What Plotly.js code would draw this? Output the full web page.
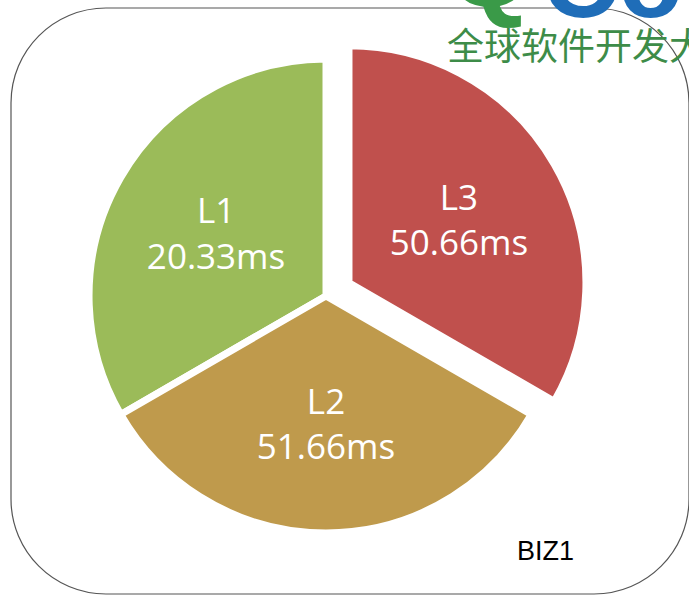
<!DOCTYPE html>
<html>
<head>
<meta charset="utf-8">
<script src="https://cdn.plot.ly/plotly-3.0.1.min.js"></script>
<style>html,body{margin:0;padding:0;background:#fff;}#chart{width:689px;height:595px;}</style>
</head>
<body>
<div id="chart"></div>
<script>
// Data
var categories = ['L1', 'L2', 'L3'];
var latencyMs = ['20.33', '51.66', '50.66'];
var sliceShares = [1, 1, 1];          // slices are drawn equal in the reference
var slicePull = [0, 0, 0.112];
var sliceColors = ['#9BBB59', '#BF9A4C', '#C0504D'];
var cornerLabel = 'BIZ1';
var watermark = '全球软件开发大会';

var W = 689, H = 595;
function px(x) { return x / W; }
function py(y) { return 1 - y / H; }

// rounded rectangle frame
function roundRect(x0, y0, x1, y1, r) {
  var k = 0.5523 * r;
  var p = [];
  p.push('M' + px(x0 + r) + ',' + py(y0));
  p.push('L' + px(x1 - r) + ',' + py(y0));
  p.push('C' + px(x1 - r + k) + ',' + py(y0) + ' ' + px(x1) + ',' + py(y0 + r - k) + ' ' + px(x1) + ',' + py(y0 + r));
  p.push('L' + px(x1) + ',' + py(y1 - r));
  p.push('C' + px(x1) + ',' + py(y1 - r + k) + ' ' + px(x1 - r + k) + ',' + py(y1) + ' ' + px(x1 - r) + ',' + py(y1));
  p.push('L' + px(x0 + r) + ',' + py(y1));
  p.push('C' + px(x0 + r - k) + ',' + py(y1) + ' ' + px(x0) + ',' + py(y1 - r + k) + ' ' + px(x0) + ',' + py(y1 - r));
  p.push('L' + px(x0) + ',' + py(y0 + r));
  p.push('C' + px(x0) + ',' + py(y0 + r - k) + ' ' + px(x0 + r - k) + ',' + py(y0) + ' ' + px(x0 + r) + ',' + py(y0));
  p.push('Z');
  return p.join(' ');
}

var texts = categories.map(function (c, i) { return c + '<br>' + latencyMs[i] + 'ms'; });

var trace = {
  type: 'pie',
  labels: categories,
  values: sliceShares,
  text: texts,
  textinfo: 'text',
  textposition: 'inside',
  insidetextorientation: 'horizontal',
  insidetextfont: {family: '"Open Sans", "Noto Sans", sans-serif', size: 35, color: '#ffffff'},
  sort: false,
  direction: 'counterclockwise',
  rotation: -120,
  pull: slicePull,
  marker: {colors: sliceColors, line: {color: '#ffffff', width: 7}},
  hoverinfo: 'none',
  domain: {x: [0.0907, 0.8556], y: [0.0597, 0.9454]}
};

var layout = {
  width: W, height: H,
  margin: {l: 0, r: 0, t: 0, b: 0},
  paper_bgcolor: '#ffffff',
  showlegend: false,
  shapes: [{
    type: 'path', xref: 'paper', yref: 'paper', layer: 'below',
    path: roundRect(11, 8, 689, 594, 95),
    line: {color: '#555555', width: 1.2}, fillcolor: 'rgba(0,0,0,0)'
  }],
  annotations: [
    {xref: 'paper', yref: 'paper', x: px(515), y: py(551), xanchor: 'left', yanchor: 'middle',
     text: cornerLabel, showarrow: false,
     font: {family: '"Liberation Sans", Arial, sans-serif', size: 27, color: '#000000'}},
    {xref: 'paper', yref: 'paper', x: px(444), y: py(22), xanchor: 'left', yanchor: 'bottom',
     text: '<b>Q</b>', showarrow: false,
     font: {family: '"Liberation Sans", Arial, sans-serif', size: 112, color: '#3a9a48'}, yshift: -10},
    {xref: 'paper', yref: 'paper', x: px(540), y: py(22), xanchor: 'left', yanchor: 'bottom',
     text: '<b>Con</b>', showarrow: false,
     font: {family: '"Liberation Sans", Arial, sans-serif', size: 106, color: '#1f6db8'}, yshift: -19},
    {xref: 'paper', yref: 'paper', x: px(445), y: py(44), xanchor: 'left', yanchor: 'middle',
     text: watermark, showarrow: false,
     font: {family: '"Noto Sans CJK SC", sans-serif', size: 37, color: '#3d8c48'}}
  ]
};

Plotly.newPlot('chart', [trace], layout, {displayModeBar: false, staticPlot: true});
</script>
</body>
</html>
